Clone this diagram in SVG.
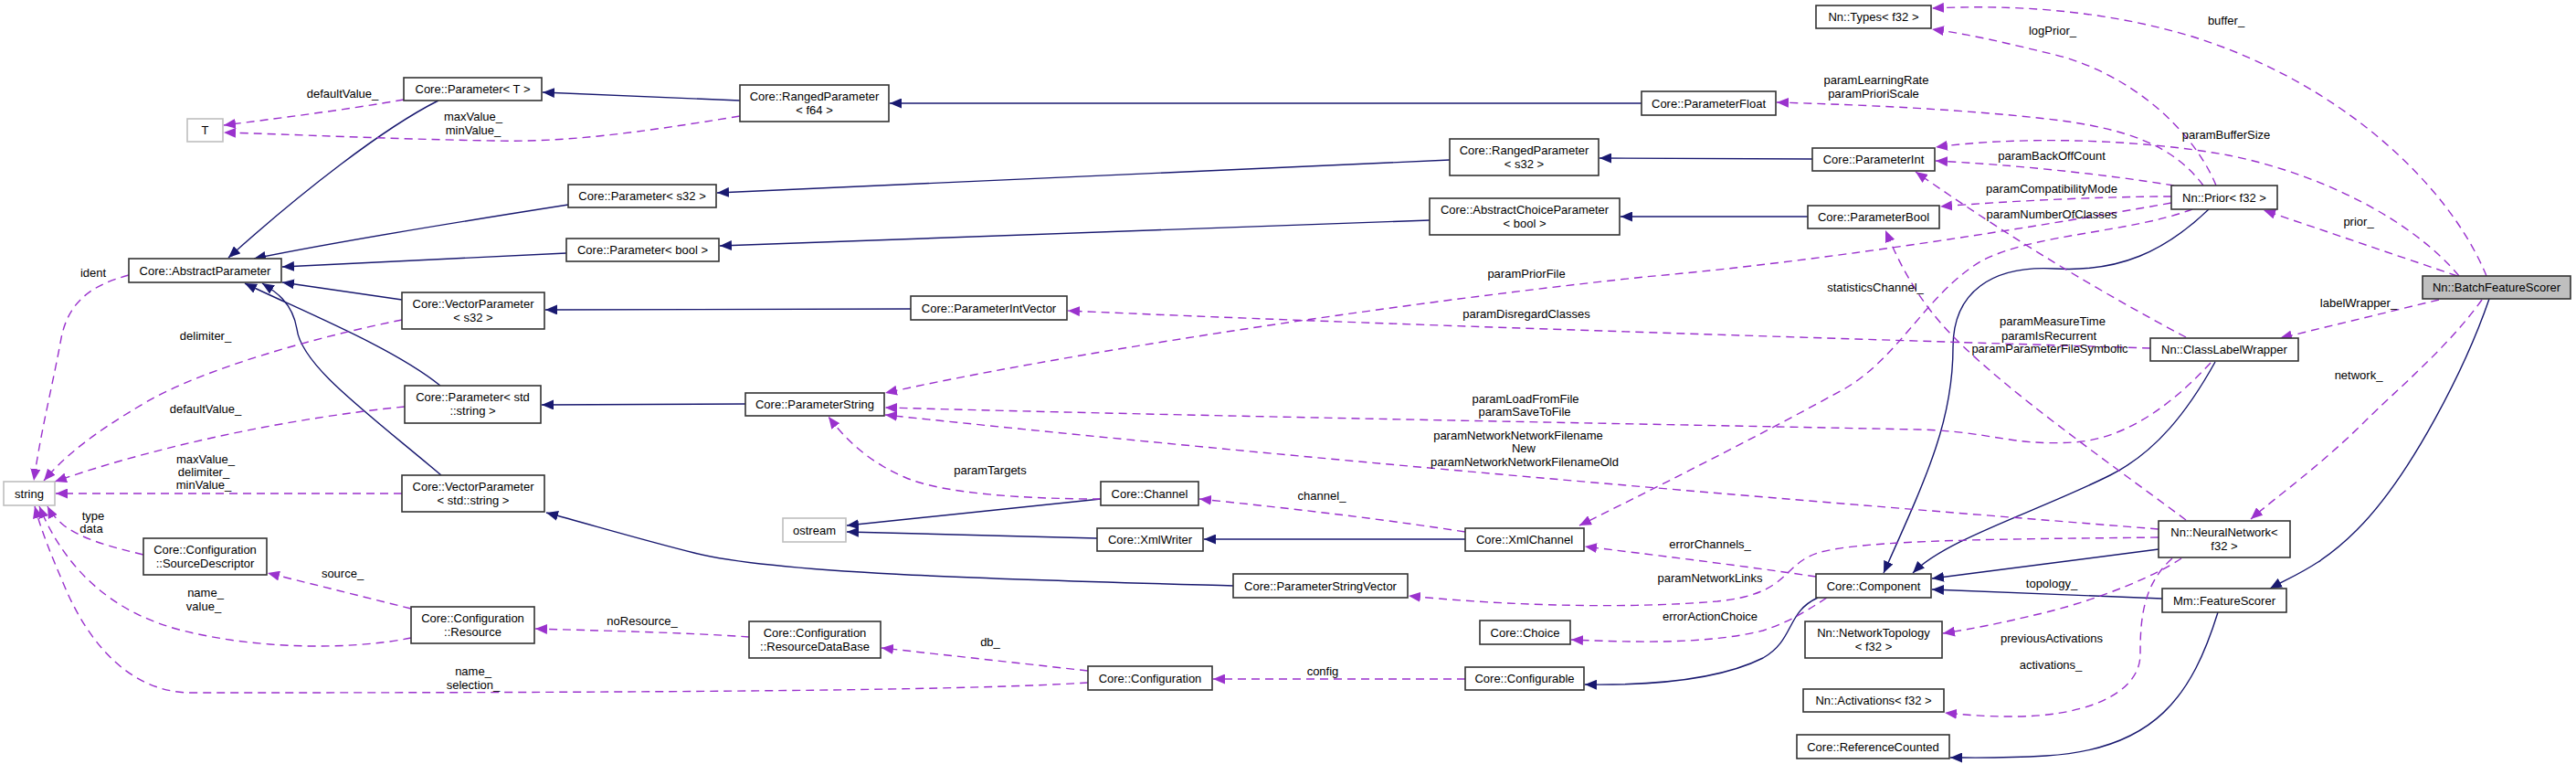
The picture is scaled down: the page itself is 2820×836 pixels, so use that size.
<svg xmlns="http://www.w3.org/2000/svg" width="2820" height="836" viewBox="0 0 2820 836">
<style>
text{font-family:"Liberation Sans",Arial,sans-serif;font-size:13px;fill:#000;text-anchor:middle}
.n rect{fill:#fff;stroke:#333;stroke-width:1.6}
.g rect{fill:#fff;stroke:#bfbfbf;stroke-width:1.6}
.h rect{fill:#bfbfbf;stroke:#333;stroke-width:1.6}
.i{fill:none;stroke:#191970;stroke-width:1.4;marker-end:url(#ab)}
.u{fill:none;stroke:#9a32cd;stroke-width:1.4;stroke-dasharray:9,6;marker-end:url(#ap)}
</style>
<defs>
<marker id="ab" markerWidth="14" markerHeight="11" refX="13" refY="5.5" orient="auto" markerUnits="userSpaceOnUse"><path d="M0,0 L13,5.5 L0,11 z" fill="#191970"/></marker>
<marker id="ap" markerWidth="14" markerHeight="11" refX="13" refY="5.5" orient="auto" markerUnits="userSpaceOnUse"><path d="M0,0 L13,5.5 L0,11 z" fill="#9a32cd"/></marker>
</defs>
<rect width="2820" height="836" fill="#fff"/>
<g id="connectors">
<path class="i" d="M480,110 C420,140 330,210 250,282"/>
<path class="i" d="M622,224 C520,240 380,262 278,283"/>
<path class="i" d="M620,277 L309,292"/>
<path class="i" d="M440,328 L309,309"/>
<path class="i" d="M482,422 C430,380 330,340 268,310"/>
<path class="i" d="M483,520 C400,450 330,400 325,360 C320,330 300,318 287,310"/>
<path class="i" d="M810,110 L594,101"/>
<path class="i" d="M1797,113 L974,113"/>
<path class="i" d="M1587,175 L785,211"/>
<path class="i" d="M1984,174 L1751,173"/>
<path class="i" d="M1565,241 L788,269"/>
<path class="i" d="M1979,237 L1774,237"/>
<path class="i" d="M997,338 L597,339"/>
<path class="i" d="M816,442 L593,443"/>
<path class="i" d="M1350,641 C1100,634 850,628 760,605 C700,590 650,575 598,561"/>
<path class="i" d="M1205,546 L927,575"/>
<path class="i" d="M1201,589 L927,582"/>
<path class="i" d="M1604,590 L1318,590"/>
<path class="i" d="M1990,654 C1955,670 1965,700 1930,720 C1880,745 1800,750 1735,749"/>
<path class="i" d="M2418,229 C2370,275 2320,298 2250,294 C2180,290 2138,320 2138,380 C2138,460 2110,520 2062,627"/>
<path class="i" d="M2425,396 C2395,450 2360,495 2310,520 C2230,560 2130,590 2094,627"/>
<path class="i" d="M2363,601 L2115,633"/>
<path class="i" d="M2367,655 L2115,645"/>
<path class="i" d="M2725,327 C2700,400 2640,520 2580,580 C2540,620 2510,630 2485,644"/>
<path class="i" d="M2428,670 C2400,760 2360,820 2240,827 C2190,830 2160,829 2135,829"/>
<path class="u" d="M442,109 C380,120 300,130 245,137"/>
<path class="u" d="M810,127 C700,145 620,156 540,154 C420,152 320,147 245,145"/>
<path class="u" d="M141,301 C100,312 75,330 67,370 C58,420 45,470 37,526"/>
<path class="u" d="M440,350 C340,370 220,405 160,440 C100,475 70,500 48,526"/>
<path class="u" d="M443,445 C330,456 180,485 60,527"/>
<path class="u" d="M440,540 L61,540"/>
<path class="u" d="M157,607 C120,598 90,590 70,575 C62,568 56,562 52,554"/>
<path class="u" d="M450,698 C380,712 280,710 200,690 C120,670 70,620 43,554"/>
<path class="u" d="M1191,747 C1050,756 700,758 210,758 C140,758 95,700 70,640 C55,605 45,580 38,554"/>
<path class="u" d="M450,666 L293,627"/>
<path class="u" d="M820,697 C750,692 650,690 586,688"/>
<path class="u" d="M1191,734 L965,709"/>
<path class="u" d="M1604,743 L1328,743"/>
<path class="u" d="M1205,546 C1120,546 1030,540 990,522 C950,505 925,480 907,456"/>
<path class="u" d="M1604,582 C1500,566 1400,555 1313,546"/>
<path class="u" d="M1988,631 C1900,618 1800,606 1735,598"/>
<path class="u" d="M2000,654 C1975,670 1960,680 1930,690 C1870,705 1790,703 1720,700"/>
<path class="u" d="M2363,588 C2200,590 2040,590 1990,605 C1950,618 1960,650 1880,658 C1760,668 1620,660 1542,652"/>
<path class="u" d="M2363,579 C2000,550 1500,510 969,454"/>
<path class="u" d="M2420,397 C2380,440 2330,480 2270,484 C2200,488 2180,472 2100,470 C1700,462 1300,455 969,446"/>
<path class="u" d="M2354,381 C2000,370 1500,355 1169,340"/>
<path class="u" d="M2377,222 C2150,262 1950,290 1800,303 C1500,335 1150,390 969,430"/>
<path class="u" d="M2400,229 C2330,255 2230,255 2170,285 C2110,320 2080,390 2020,425 C1920,480 1800,540 1729,575"/>
<path class="u" d="M2412,203 C2380,160 2330,140 2240,130 C2150,120 2050,115 1945,112"/>
<path class="u" d="M2380,203 C2300,190 2200,180 2119,176"/>
<path class="u" d="M2377,215 C2300,215 2200,220 2124,226"/>
<path class="u" d="M2692,302 C2640,240 2540,190 2440,170 C2330,150 2200,150 2119,161"/>
<path class="u" d="M2722,302 C2680,200 2560,90 2400,40 C2300,10 2200,5 2115,9"/>
<path class="u" d="M2426,203 C2400,140 2330,80 2250,60 C2200,48 2160,38 2115,32"/>
<path class="u" d="M2690,302 L2478,230"/>
<path class="u" d="M2670,328 L2496,370"/>
<path class="u" d="M2717,328 C2680,380 2620,430 2590,460 C2540,510 2490,545 2464,568"/>
<path class="u" d="M2393,369 C2300,320 2200,260 2097,188"/>
<path class="u" d="M2393,569 C2300,500 2200,430 2140,370 C2100,330 2080,290 2064,252"/>
<path class="u" d="M2388,611 C2360,630 2300,655 2240,670 C2190,682 2160,688 2127,693"/>
<path class="u" d="M2378,611 C2345,640 2343,680 2343,716 C2343,760 2280,785 2200,784 C2170,784 2150,782 2129,780"/>
<text x="375" y="107">defaultValue_</text>
<text x="518" y="132">maxValue_</text>
<text x="518" y="147">minValue_</text>
<text x="102" y="303">ident</text>
<text x="225" y="372">delimiter_</text>
<text x="225" y="452">defaultValue_</text>
<text x="225" y="507">maxValue_</text>
<text x="223" y="521">delimiter_</text>
<text x="223" y="535">minValue_</text>
<text x="102" y="569">type</text>
<text x="100" y="583">data</text>
<text x="375" y="632">source_</text>
<text x="225" y="653">name_</text>
<text x="223" y="668">value_</text>
<text x="518" y="739">name_</text>
<text x="518" y="754">selection_</text>
<text x="703" y="684">noResource_</text>
<text x="1084" y="519">paramTargets</text>
<text x="1084" y="707">db_</text>
<text x="1447" y="547">channel_</text>
<text x="1448" y="739">config</text>
<text x="1670" y="441">paramLoadFromFile</text>
<text x="1669" y="455">paramSaveToFile</text>
<text x="1662" y="481">paramNetworkNetworkFilename</text>
<text x="1668" y="495">New</text>
<text x="1669" y="510">paramNetworkNetworkFilenameOld</text>
<text x="1872" y="600">errorChannels_</text>
<text x="1872" y="637">paramNetworkLinks</text>
<text x="1872" y="679">errorActionChoice</text>
<text x="2054" y="92">paramLearningRate</text>
<text x="2051" y="107">paramPrioriScale</text>
<text x="1671" y="304">paramPriorFile</text>
<text x="1671" y="348">paramDisregardClasses</text>
<text x="2053" y="319">statisticsChannel_</text>
<text x="2246" y="175">paramBackOffCount</text>
<text x="2246" y="211">paramCompatibilityMode</text>
<text x="2246" y="239">paramNumberOfClasses</text>
<text x="2247" y="356">paramMeasureTime</text>
<text x="2243" y="372">paramIsRecurrent</text>
<text x="2244" y="386">paramParameterFileSymbolic</text>
<text x="2437" y="152">paramBufferSize</text>
<text x="2437" y="27">buffer_</text>
<text x="2247" y="38">logPrior_</text>
<text x="2582" y="247">prior_</text>
<text x="2582" y="336">labelWrapper_</text>
<text x="2582" y="415">network_</text>
<text x="2246" y="643">topology_</text>
<text x="2246" y="703">previousActivations</text>
<text x="2245" y="732">activations_</text>
</g>
<g id="n1" class="n"><rect x="442" y="85" width="151" height="25"/><text x="517.5" y="102">Core::Parameter&lt; T &gt;</text></g>
<g id="n2" class="g"><rect x="205" y="130" width="39" height="25"/><text x="224.5" y="147">T</text></g>
<g id="n3" class="n"><rect x="141" y="283" width="167" height="26"/><text x="224.5" y="300.5">Core::AbstractParameter</text></g>
<g id="n4" class="n"><rect x="440" y="320" width="156" height="40"/><text x="518" y="337">Core::VectorParameter</text><text x="518" y="352">&lt; s32 &gt;</text></g>
<g id="n5" class="n"><rect x="622" y="202" width="162" height="25"/><text x="703" y="219">Core::Parameter&lt; s32 &gt;</text></g>
<g id="n6" class="n"><rect x="620" y="261" width="167" height="25"/><text x="703.5" y="278">Core::Parameter&lt; bool &gt;</text></g>
<g id="n7" class="n"><rect x="443" y="422" width="149" height="41"/><text x="517.5" y="439">Core::Parameter&lt; std</text><text x="517.5" y="454">::string &gt;</text></g>
<g id="n8" class="g"><rect x="4" y="527" width="56" height="26"/><text x="32" y="544.5">string</text></g>
<g id="n9" class="n"><rect x="440" y="520" width="156" height="40"/><text x="518" y="537">Core::VectorParameter</text><text x="518" y="552">&lt; std::string &gt;</text></g>
<g id="n10" class="n"><rect x="157" y="589" width="135" height="40"/><text x="224.5" y="606">Core::Configuration</text><text x="224.5" y="621">::SourceDescriptor</text></g>
<g id="n11" class="n"><rect x="450" y="664" width="135" height="40"/><text x="517.5" y="681">Core::Configuration</text><text x="517.5" y="696">::Resource</text></g>
<g id="n12" class="n"><rect x="810" y="93" width="163" height="40"/><text x="891.5" y="110">Core::RangedParameter</text><text x="891.5" y="125">&lt; f64 &gt;</text></g>
<g id="n13" class="n"><rect x="997" y="324" width="171" height="26"/><text x="1082.5" y="341.5">Core::ParameterIntVector</text></g>
<g id="n14" class="n"><rect x="816" y="430" width="152" height="25"/><text x="892" y="447">Core::ParameterString</text></g>
<g id="n15" class="n"><rect x="1205" y="527" width="107" height="26"/><text x="1258.5" y="544.5">Core::Channel</text></g>
<g id="n16" class="g"><rect x="857" y="567" width="69" height="26"/><text x="891.5" y="584.5">ostream</text></g>
<g id="n17" class="n"><rect x="1201" y="578" width="116" height="25"/><text x="1259" y="595">Core::XmlWriter</text></g>
<g id="n18" class="n"><rect x="1350" y="628" width="191" height="26"/><text x="1445.5" y="645.5">Core::ParameterStringVector</text></g>
<g id="n19" class="n"><rect x="820" y="680" width="144" height="40"/><text x="892" y="697">Core::Configuration</text><text x="892" y="712">::ResourceDataBase</text></g>
<g id="n20" class="n"><rect x="1191" y="729" width="136" height="26"/><text x="1259" y="746.5">Core::Configuration</text></g>
<g id="n21" class="n"><rect x="1988" y="6" width="126" height="25"/><text x="2051" y="23">Nn::Types&lt; f32 &gt;</text></g>
<g id="n22" class="n"><rect x="1797" y="100" width="147" height="26"/><text x="1870.5" y="117.5">Core::ParameterFloat</text></g>
<g id="n23" class="n"><rect x="1587" y="152" width="163" height="40"/><text x="1668.5" y="169">Core::RangedParameter</text><text x="1668.5" y="184">&lt; s32 &gt;</text></g>
<g id="n24" class="n"><rect x="1984" y="162" width="134" height="25"/><text x="2051" y="179">Core::ParameterInt</text></g>
<g id="n25" class="n"><rect x="1565" y="217" width="208" height="40"/><text x="1669" y="234">Core::AbstractChoiceParameter</text><text x="1669" y="249">&lt; bool &gt;</text></g>
<g id="n26" class="n"><rect x="1979" y="225" width="144" height="25"/><text x="2051" y="242">Core::ParameterBool</text></g>
<g id="n27" class="n"><rect x="1604" y="578" width="130" height="25"/><text x="1669" y="595">Core::XmlChannel</text></g>
<g id="n28" class="n"><rect x="1988" y="628" width="126" height="26"/><text x="2051" y="645.5">Core::Component</text></g>
<g id="n29" class="n"><rect x="1620" y="679" width="99" height="26"/><text x="1669.5" y="696.5">Core::Choice</text></g>
<g id="n30" class="n"><rect x="1604" y="730" width="130" height="25"/><text x="1669" y="747">Core::Configurable</text></g>
<g id="n31" class="n"><rect x="1976" y="680" width="150" height="40"/><text x="2051" y="697">Nn::NetworkTopology</text><text x="2051" y="712">&lt; f32 &gt;</text></g>
<g id="n32" class="n"><rect x="1974" y="754" width="154" height="25"/><text x="2051" y="771">Nn::Activations&lt; f32 &gt;</text></g>
<g id="n33" class="n"><rect x="1967" y="804" width="167" height="26"/><text x="2050.5" y="821.5">Core::ReferenceCounted</text></g>
<g id="n34" class="n"><rect x="2377" y="203" width="116" height="26"/><text x="2435" y="220.5">Nn::Prior&lt; f32 &gt;</text></g>
<g id="n35" class="h"><rect x="2652" y="302" width="162" height="25"/><text x="2733" y="319">Nn::BatchFeatureScorer</text></g>
<g id="n36" class="n"><rect x="2354" y="370" width="162" height="25"/><text x="2435" y="387">Nn::ClassLabelWrapper</text></g>
<g id="n37" class="n"><rect x="2363" y="570" width="144" height="40"/><text x="2435" y="587">Nn::NeuralNetwork&lt;</text><text x="2435" y="602">f32 &gt;</text></g>
<g id="n38" class="n"><rect x="2367" y="644" width="136" height="26"/><text x="2435" y="661.5">Mm::FeatureScorer</text></g>
</svg>
